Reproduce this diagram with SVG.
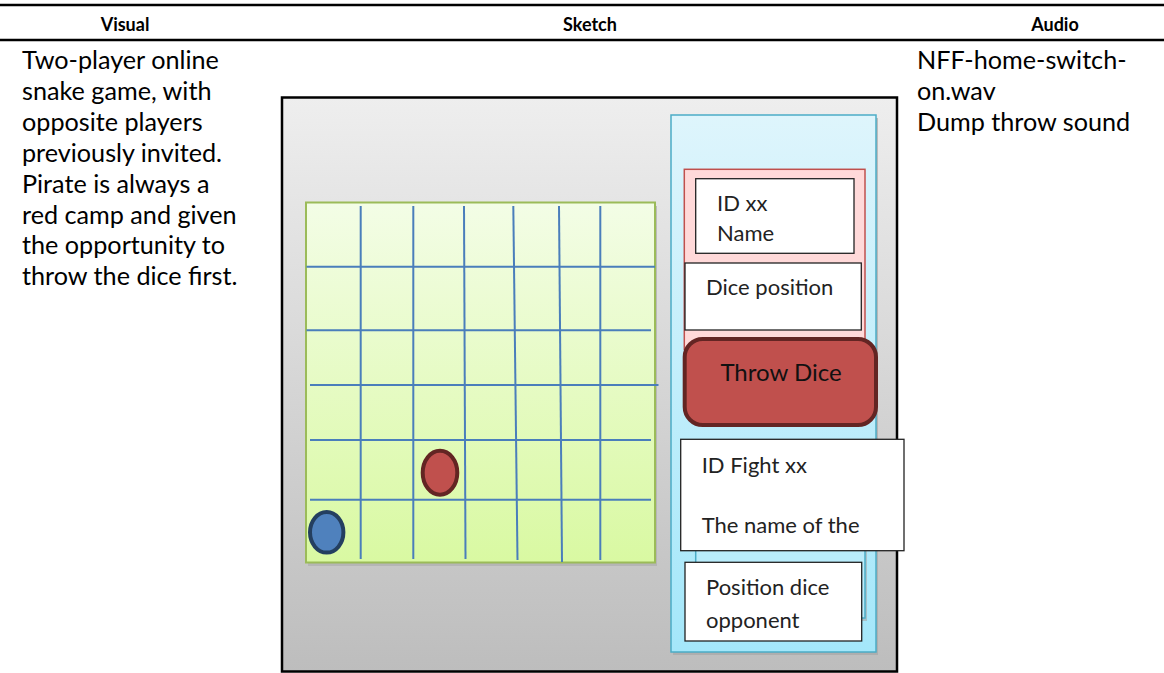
<svg xmlns="http://www.w3.org/2000/svg" width="1164" height="673" viewBox="0 0 1164 673">
<defs>
<linearGradient id="gFrame" x1="0" y1="0" x2="0" y2="1"><stop offset="0" stop-color="#eeeeee"/><stop offset="1" stop-color="#bdbdbd"/></linearGradient>
<linearGradient id="gBoard" x1="0" y1="0" x2="0" y2="1"><stop offset="0" stop-color="#f3fde6"/><stop offset="1" stop-color="#d9f9a2"/></linearGradient>
<linearGradient id="gPanel" x1="0" y1="0" x2="0" y2="1"><stop offset="0" stop-color="#def5fc"/><stop offset="1" stop-color="#a4e7fa"/></linearGradient>
<style>
.hdr{font-family:"Lato","Liberation Sans",sans-serif;font-weight:bold;font-size:18px;fill:#000;text-anchor:middle}
.body{font-family:"Lato","Liberation Sans",sans-serif;font-size:25.2px;fill:#000}
.lbl{font-family:"Lato","Liberation Sans",sans-serif;font-size:22px;fill:#222}
.rule{stroke:#000;stroke-width:2.5}
.grid{stroke:#4a7ebb;stroke-width:2;fill:none}
.box{fill:#fff;stroke:#222;stroke-width:1.3}
</style>
</defs>
<g id="table">
<line class="rule" x1="0" y1="5" x2="1164" y2="5"/>
<line class="rule" x1="0" y1="40" x2="1164" y2="40"/>
<text class="hdr" x="125" y="31">Visual</text>
<text class="hdr" x="590" y="31">Sketch</text>
<text class="hdr" x="1055" y="31">Audio</text>
</g>
<g id="visual-text">
<text class="body" x="22" y="69">Two-player online</text>
<text class="body" x="22" y="99.9">snake game, with</text>
<text class="body" x="22" y="130.8">opposite players</text>
<text class="body" x="22" y="161.7">previously invited.</text>
<text class="body" x="22" y="192.6">Pirate is always a</text>
<text class="body" x="22" y="223.5">red camp and given</text>
<text class="body" x="22" y="254.4">the opportunity to</text>
<text class="body" x="22" y="285.3">throw the dice first.</text>
</g>
<g id="audio-text">
<text class="body" x="917" y="69">NFF-home-switch-</text>
<text class="body" x="917" y="99.9">on.wav</text>
<text class="body" x="917" y="130.8">Dump throw sound</text>
</g>
<g id="frame">
<rect x="282" y="97.5" width="615" height="574" fill="url(#gFrame)" stroke="#000" stroke-width="2.5"/>
</g>
<g id="board">
<rect x="308" y="206" width="349" height="360" fill="#b0b0b0" opacity="0.8"/>
<rect x="306" y="202.5" width="349" height="360" fill="url(#gBoard)" stroke="#9bbb59" stroke-width="2"/>
<g class="grid">
<line x1="360.7" y1="206" x2="360.7" y2="559"/>
<line x1="413.3" y1="206" x2="413.3" y2="559"/>
<line x1="464" y1="206" x2="465.5" y2="559"/>
<line x1="513.3" y1="206" x2="517.5" y2="560"/>
<line x1="559" y1="206" x2="562" y2="562"/>
<line x1="600.3" y1="206" x2="600.3" y2="560"/>
<line x1="306.5" y1="266.7" x2="655" y2="266.7"/>
<line x1="306.5" y1="330.3" x2="651" y2="330.3"/>
<line x1="310" y1="385" x2="658.5" y2="385"/>
<line x1="310" y1="440" x2="651" y2="440"/>
<line x1="310" y1="499.7" x2="651" y2="499.7"/>
</g>
</g>
<g id="red-piece"><ellipse cx="440" cy="472.7" rx="17.3" ry="22" fill="#c0504d" stroke="#632523" stroke-width="4"/></g>
<g id="blue-piece"><ellipse cx="326.7" cy="532.3" rx="16.7" ry="20.3" fill="#4f81bd" stroke="#243f60" stroke-width="4"/></g>
<g id="side-panel">
<rect x="673" y="118" width="205" height="537" fill="#a6a6a6" opacity="0.7"/>
<rect x="671" y="115" width="205" height="537" fill="url(#gPanel)" stroke="#4bacc6" stroke-width="1.5"/>
</g>
<g id="player-panel">
<rect x="684.3" y="169.3" width="180.7" height="180" fill="#ffd9d9" stroke="#c0504d" stroke-width="1.5"/>
</g>
<g id="id-box">
<rect class="box" x="695.7" y="178.7" width="158.3" height="74.6"/>
<text class="lbl" x="717" y="211">ID xx</text>
<text class="lbl" x="717" y="241">Name</text>
</g>
<g id="dice-position">
<rect class="box" x="685" y="263" width="176.3" height="67"/>
<text class="lbl" x="706" y="295">Dice position</text>
</g>
<g id="throw-dice">
<rect x="684.7" y="339" width="191.3" height="86" rx="18" ry="18" fill="#c0504d" stroke="#632523" stroke-width="4"/>
<text class="lbl" x="781" y="381" text-anchor="middle" style="fill:#111;font-size:24px">Throw Dice</text>
</g>
<g id="opponent-panel">
<rect x="698" y="448" width="169" height="173" fill="#a6a6a6" opacity="0.6"/>
<rect x="695.7" y="445" width="169.3" height="173" fill="#b9ecfb" stroke="#4bacc6" stroke-width="1.5"/>
</g>
<g id="fight-box">
<rect class="box" x="680.7" y="439.3" width="223.3" height="111.4"/>
<text class="lbl" x="701.7" y="473.3">ID Fight xx</text>
<text class="lbl" x="701.7" y="533.3">The name of the</text>
</g>
<g id="opponent-dice">
<rect class="box" x="685" y="562.3" width="176.7" height="78.7"/>
<text class="lbl" x="706" y="595">Position dice</text>
<text class="lbl" x="706" y="628.3">opponent</text>
</g>
<g id="connectors"/>
</svg>
